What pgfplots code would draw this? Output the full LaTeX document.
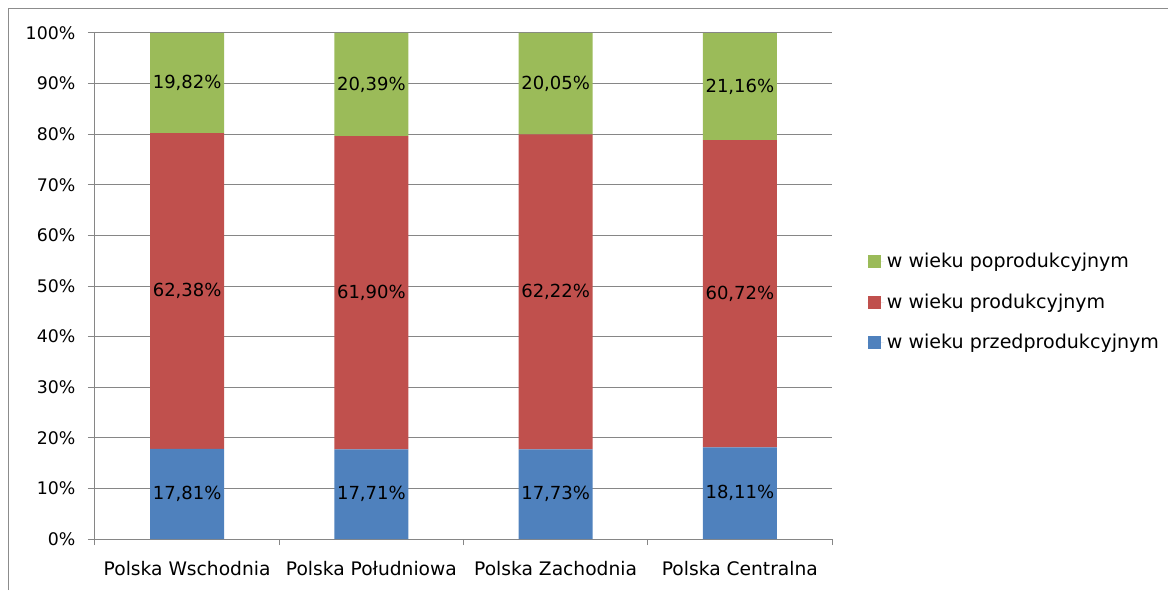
\documentclass[border=0pt]{standalone}
\usepackage{pgfplots}
\pgfplotsset{compat=1.18}
\usepackage{fontspec}
\setmainfont{DejaVu Sans}
\definecolor{cblue}{HTML}{4F81BD}
\definecolor{cred}{HTML}{C0504D}
\definecolor{cgreen}{HTML}{9BBB59}
\definecolor{cgrid}{HTML}{868686}
\definecolor{cframe}{HTML}{8C8C8C}

\pgfplotstableread{
x y
0 17.81
1 17.71
2 17.73
3 18.11
}\tblue
\pgfplotstableread{
x y
0 62.38
1 61.90
2 62.22
3 60.72
}\tred
\pgfplotstableread{
x y
0 19.82
1 20.39
2 20.05
3 21.16
}\tgreen

\pgfplotsset{
  sq legend/.style={legend image code/.code={\fill[##1,draw=none] (0pt,-5pt) rectangle (10pt,5pt); \path (0pt,0pt) -- (12.5pt,0pt);}},
}

\begin{document}
\begin{tikzpicture}
\path[use as bounding box] (0pt,0pt) rectangle (876pt,442.5pt);
\draw[cframe, line width=1.1pt] (6.4pt,0pt) -- (6.4pt,436.1pt) -- (876pt,436.1pt);
\begin{axis}[
  at={(71.25pt,38.25pt)}, anchor=south west,
  scale only axis, width=552.75pt, height=379.5pt,
  clip=false,
  /pgf/number format/assume math mode=true,
  ybar stacked, bar width=55.5pt,
  xmin=-0.5, xmax=3.5, ymin=0, ymax=100,
  xtick={0,1,2,3},
  xticklabels={Polska Wschodnia, Polska Południowa, Polska Zachodnia, Polska Centralna},
  major x tick style={draw=none},
  minor xtick={-0.5,0.5,1.5,2.5,3.5},
  ytick={0,10,...,100},
  yticklabel={\pgfmathprintnumber{\tick}\%},
  ymajorgrids, grid style={cgrid, line width=0.75pt},
  axis x line*=bottom, axis y line*=left,
  axis line style={cgrid, line width=0.75pt},
  tick style={cgrid, line width=0.75pt},
  tick align=outside,
  major tick length=5.25pt, minor tick length=4.5pt,
  xticklabel style={font=\fontsize{14}{16}\selectfont, text=black, yshift=-8pt},
  yticklabel style={font=\fontsize{13}{15}\selectfont, text=black, xshift=-6pt},
  nodes near coords={\pgfmathprintnumber[fixed,fixed zerofill,precision=2,use comma]{\pgfplotspointmeta}\%},
  point meta=\thisrow{y},
  visualization depends on={\thisrow{y} \as \rawy},
  every node near coord/.append style={anchor=center, font=\fontsize{13.5}{15}\selectfont, text=black},
  reverse legend,
  legend cell align=left,
  legend style={draw=none, fill=none, at={(axis description cs:1,0.468)}, anchor=west, xshift=26.5pt,
    font=\fontsize{14.3}{16}\selectfont, row sep=14pt, inner sep=0pt},
]
\addplot[fill=cblue, draw=none, sq legend] table[x=x,y=y] {\tblue};
\addplot[fill=cred, draw=none, sq legend] table[x=x,y=y] {\tred};
\addplot[fill=cgreen, draw=none, sq legend] table[x=x,y=y] {\tgreen};
\legend{w wieku przedprodukcyjnym, w wieku produkcyjnym, w wieku poprodukcyjnym}
\end{axis}
\end{tikzpicture}
\end{document}
